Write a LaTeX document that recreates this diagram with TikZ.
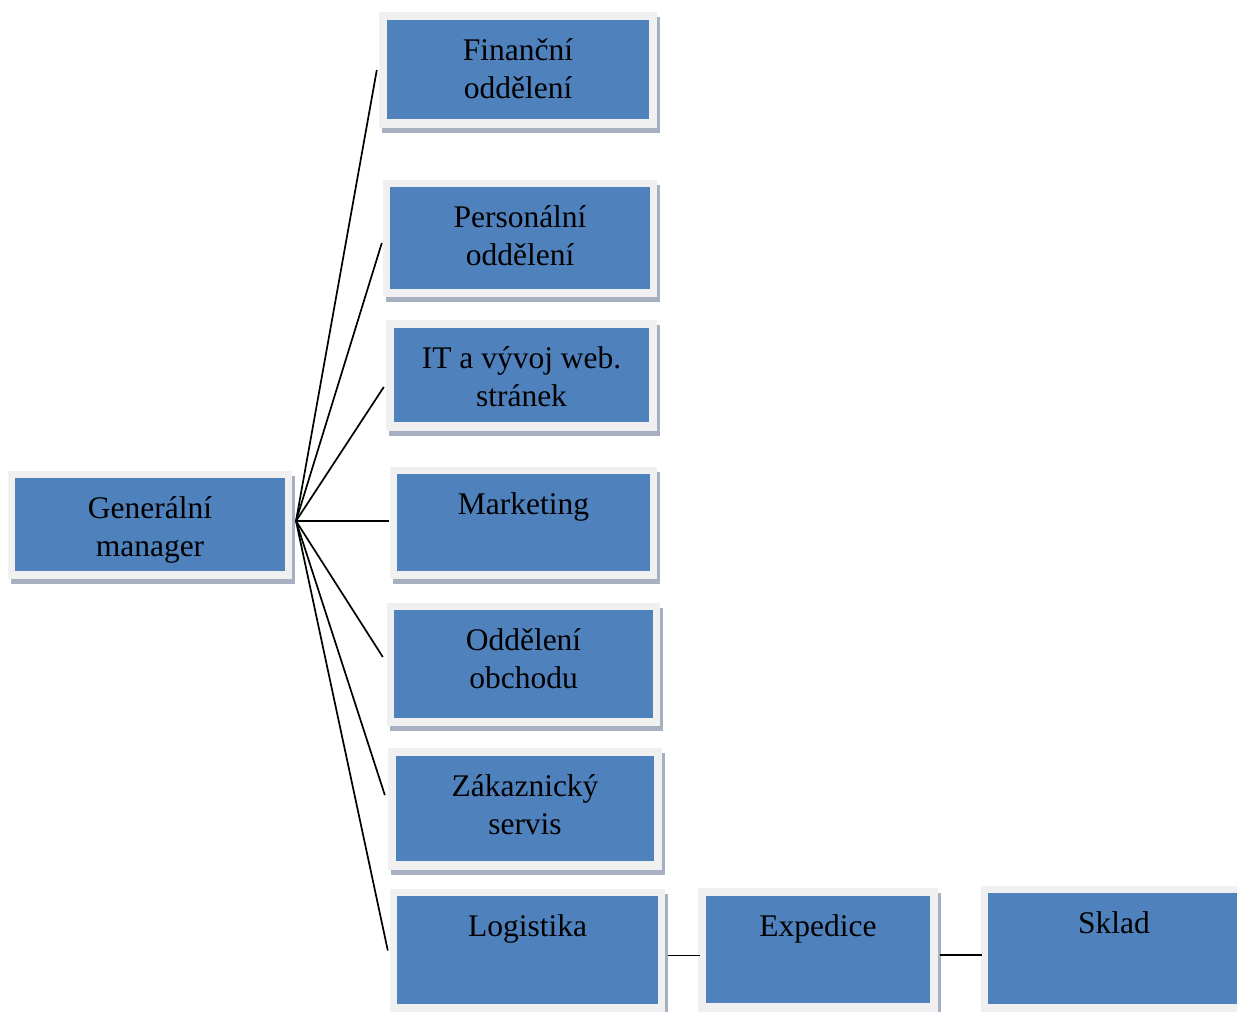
\documentclass[tikz,border=0pt]{standalone}
\usepackage{fontspec}
\setmainfont{Liberation Serif}
\usetikzlibrary{fit}
\definecolor{unitblue}{HTML}{4F81BD}
\definecolor{unitframe}{HTML}{F0F0F0}
\definecolor{unitshadow}{HTML}{A7B0C0}
\tikzset{
  framebox/.style={inner sep=0pt, fill=unitframe},
  bluebox/.style={inner sep=0pt, fill=unitblue},
  unittext/.style={font=\fontsize{31.5}{38}\selectfont, align=center, inner sep=0pt, anchor=north, text=black},
  link/.style={draw=black, line width=1.7pt},
}
% \orgunit{name}{frame x1}{frame y1}{frame x2}{frame y2}{inset}{text}
\newcommand\orgunit[7]{%
  \fill[unitshadow] (#2+3,#3+5) rectangle (#4+3,#5+5);
  \coordinate (#1-a) at (#2,#3);
  \coordinate (#1-b) at (#4,#5);
  \node[framebox, fit=(#1-a)(#1-b)] (#1-f) {};
  \coordinate (#1-c) at (#2+#6,#3+#6);
  \coordinate (#1-d) at (#4-#6,#5-#6-1);
  \node[bluebox, fit=(#1-c)(#1-d)] (#1) {};
  \node[unittext] (#1-t) at ([yshift=-13pt]#1.north) {\rule{0pt}{27pt}#7};
}
\begin{document}
\begin{tikzpicture}[x=1pt,y=-1pt]
\useasboundingbox (0,0) rectangle (1237,1012);
\clip (0,0) rectangle (1237,1012);
\fill[white] (0,0) rectangle (1237,1012);

\orgunit{gm}{8}{471}{292}{579}{7}{Generální\\manager}
\orgunit{fin}{379}{12}{657}{128}{8}{Finanční\\oddělení}
\orgunit{per}{383}{180}{657}{297}{7}{Personální\\oddělení}
\orgunit{it}{386}{320}{657}{431}{8}{IT a vývoj web.\\stránek}
\orgunit{mkt}{390}{467}{657}{579}{7}{Marketing}
\orgunit{obch}{387}{603}{660}{726}{7}{Oddělení\\obchodu}
\orgunit{zak}{388}{748}{662}{870}{8}{Zákaznický\\servis}
\orgunit{log}{390}{889}{665}{1012}{7}{Logistika}
\orgunit{exp}{698}{888}{938}{1012}{8}{Expedice}
\orgunit{skl}{981}{886}{1247}{1012}{7}{Sklad}

\coordinate (hub) at (296,521);
\draw[link] (hub) -- ([xshift=-2pt]fin-f.west);
\draw[link] (hub) -- ([xshift=-1pt,yshift=-4.5pt]per-f.west);
\draw[link] (hub) -- ([xshift=-2pt,yshift=-11.5pt]it-f.west);
\draw[link] (hub) -- ([xshift=-1pt,yshift=2pt]mkt-f.west);
\draw[link] (hub) -- ([xshift=-4pt,yshift=7.5pt]obch-f.west);
\draw[link] (hub) -- ([xshift=-3pt,yshift=14pt]zak-f.west);
\draw[link] (hub) -- ([xshift=-2pt]log-f.west);

% chain of logistics units
\coordinate (logout) at ([xshift=3pt,yshift=-5pt]log-f.east);
\coordinate (expout) at ([xshift=2pt,yshift=-5pt]exp-f.east);
\draw[link] (logout) -- ([xshift=2pt]exp-f.west |- logout);
\draw[link] (expout) -- ([xshift=1pt]skl-f.west |- expout);
\end{tikzpicture}
\end{document}
